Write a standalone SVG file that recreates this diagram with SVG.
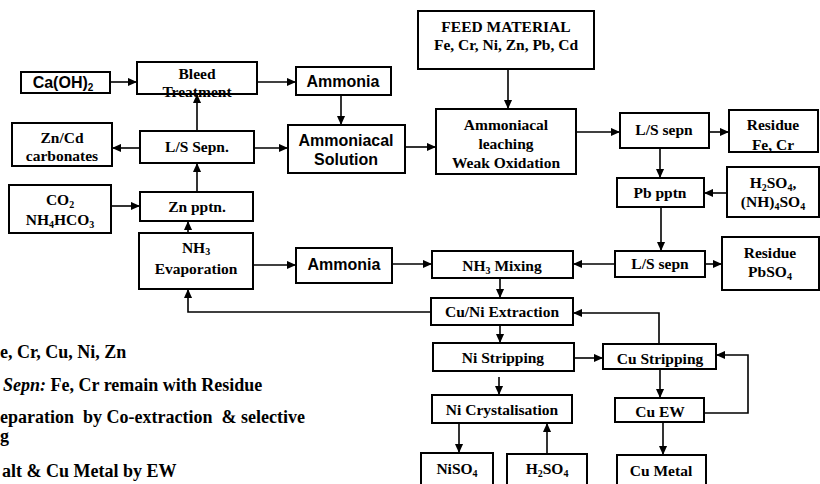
<svg xmlns="http://www.w3.org/2000/svg" width="820" height="484" viewBox="0 0 820 484">
  <style>
    .box { fill: #fff; stroke: #000; stroke-width: 2; }
    .t { font-family: "Liberation Serif", "Times New Roman", serif; font-weight: bold; font-size: 15.5px; text-anchor: middle; fill: #000; }
    .s { font-family: "Liberation Sans", Arial, sans-serif; font-weight: bold; font-size: 16px; text-anchor: middle; fill: #000; }
    .note { font-family: "Liberation Serif", "Times New Roman", serif; font-weight: bold; font-size: 18px; fill: #000; white-space: pre; }
    .sub { font-size: 10px; }
    .wire { fill: none; stroke: #000; stroke-width: 1.6; marker-end: url(#ah); }
  </style>
  <defs>
    <marker id="ah" viewBox="0 0 10 10" refX="10" refY="5" markerWidth="9" markerHeight="9" markerUnits="userSpaceOnUse" orient="auto">
      <path d="M0,0.5 L10,5 L0,9.5 z" fill="#000"/>
    </marker>
  </defs>
  <rect width="820" height="484" fill="#fff"/>

  <!-- connectors -->
  <g id="connectors">
    <path class="wire" d="M110,82 H137"/>
    <path class="wire" d="M257,82 H296"/>
    <path class="wire" d="M341,95 V125"/>
    <path class="wire" d="M254,148 H288"/>
    <path class="wire" d="M197,131 V94"/>
    <path class="wire" d="M140,148 H112"/>
    <path class="wire" d="M197,192 V163"/>
    <path class="wire" d="M111,206 H140"/>
    <path class="wire" d="M188,233 V221"/>
    <path class="wire" d="M253,265 H296"/>
    <path class="wire" d="M392,264 H432"/>
    <path class="wire" d="M431,312 H188 V289"/>
    <path class="wire" d="M405,147 H436"/>
    <path class="wire" d="M508,69 V109"/>
    <path class="wire" d="M576,132 H620"/>
    <path class="wire" d="M709,132 H729"/>
    <path class="wire" d="M660,148 V178"/>
    <path class="wire" d="M727,193 H704"/>
    <path class="wire" d="M661,207 V251"/>
    <path class="wire" d="M615,264 H573"/>
    <path class="wire" d="M705,264 H722"/>
    <path class="wire" d="M500,278 V298"/>
    <path class="wire" d="M500,325 V343"/>
    <path class="wire" d="M659,344 V313 H573"/>
    <path class="wire" d="M574,358 H603"/>
    <path class="wire" d="M499,377 V395"/>
    <path class="wire" d="M660,369 V398"/>
    <path class="wire" d="M704,413 H748 V355 H716"/>
    <path class="wire" d="M663,422 V455"/>
    <path class="wire" d="M459,423 V453"/>
    <path class="wire" d="M547,454 V423"/>
  </g>

  <g id="caoh2">
    <rect class="box" x="21" y="72" width="89" height="21"/>
    <text class="s" x="63" y="88">Ca(OH)<tspan class="sub" dy="3">2</tspan></text>
  </g>
  <g id="bleed">
    <rect class="box" x="137" y="62" width="120" height="32"/>
    <text class="t" x="197" y="79">Bleed</text>
    <text class="t" x="197" y="97">Treatment</text>
  </g>
  <g id="ammonia-top">
    <rect class="box" x="296" y="67" width="95" height="28"/>
    <text class="s" x="343" y="87">Ammonia</text>
  </g>
  <g id="ammoniacal-solution">
    <rect class="box" x="288" y="125" width="117" height="48"/>
    <text class="s" x="346" y="146">Ammoniacal</text>
    <text class="s" x="346" y="165">Solution</text>
  </g>
  <g id="feed">
    <rect class="box" x="418" y="11" width="176" height="58"/>
    <text class="t" x="506" y="32">FEED MATERIAL</text>
    <text class="t" x="506" y="50">Fe, Cr, Ni, Zn, Pb, Cd</text>
  </g>
  <g id="leaching">
    <rect class="box" x="436" y="109" width="140" height="65"/>
    <text class="t" x="506" y="130">Ammoniacal</text>
    <text class="t" x="506" y="149">leaching</text>
    <text class="t" x="506" y="168">Weak Oxidation</text>
  </g>
  <g id="ls-sepn-1">
    <rect class="box" x="620" y="113" width="89" height="35"/>
    <text class="t" x="664" y="135">L/S sepn</text>
  </g>
  <g id="residue-fecr">
    <rect class="box" x="729" y="110" width="89" height="42"/>
    <text class="t" x="773" y="130">Residue</text>
    <text class="t" x="773" y="150">Fe, Cr</text>
  </g>
  <g id="pb-pptn">
    <rect class="box" x="617" y="178" width="87" height="29"/>
    <text class="t" x="660" y="198">Pb pptn</text>
  </g>
  <g id="acid-1">
    <rect class="box" x="727" y="167" width="92" height="50"/>
    <text class="t" x="773" y="188">H<tspan class="sub" dy="3">2</tspan><tspan dy="-3">SO</tspan><tspan class="sub" dy="3">4</tspan><tspan dy="-3">,</tspan></text>
    <text class="t" x="773" y="207">(NH)<tspan class="sub" dy="3">4</tspan><tspan dy="-3">SO</tspan><tspan class="sub" dy="3">4</tspan></text>
  </g>
  <g id="ls-sepn-2">
    <rect class="box" x="615" y="251" width="90" height="26"/>
    <text class="t" x="660" y="269">L/S sepn</text>
  </g>
  <g id="residue-pbso4">
    <rect class="box" x="722" y="237" width="97" height="53"/>
    <text class="t" x="770" y="258">Residue</text>
    <text class="t" x="770" y="277">PbSO<tspan class="sub" dy="3">4</tspan></text>
  </g>
  <g id="nh3-mixing">
    <rect class="box" x="432" y="251" width="141" height="27"/>
    <text class="t" x="502" y="271">NH<tspan class="sub" dy="3">3</tspan><tspan dy="-3"> Mixing</tspan></text>
  </g>
  <g id="cuni-extraction">
    <rect class="box" x="431" y="298" width="142" height="27"/>
    <text class="t" x="502" y="317">Cu/Ni Extraction</text>
  </g>
  <g id="ni-stripping">
    <rect class="box" x="433" y="343" width="141" height="28"/>
    <text class="t" x="503" y="363">Ni Stripping</text>
  </g>
  <g id="cu-stripping">
    <rect class="box" x="603" y="344" width="113" height="25"/>
    <text class="t" x="660" y="364">Cu Stripping</text>
  </g>
  <g id="ni-crystal">
    <rect class="box" x="432" y="395" width="140" height="28"/>
    <text class="t" x="502" y="415">Ni Crystalisation</text>
  </g>
  <g id="cu-ew">
    <rect class="box" x="615" y="398" width="89" height="24"/>
    <text class="t" x="660" y="417">Cu EW</text>
  </g>
  <g id="niso4">
    <rect class="box" x="421" y="453" width="72" height="40"/>
    <text class="t" x="457" y="474">NiSO<tspan class="sub" dy="3">4</tspan></text>
  </g>
  <g id="acid-2">
    <rect class="box" x="507" y="454" width="80" height="40"/>
    <text class="t" x="547" y="474">H<tspan class="sub" dy="3">2</tspan><tspan dy="-3">SO</tspan><tspan class="sub" dy="3">4</tspan></text>
  </g>
  <g id="cu-metal">
    <rect class="box" x="617" y="455" width="89" height="40"/>
    <text class="t" x="661" y="476">Cu Metal</text>
  </g>
  <g id="zncd">
    <rect class="box" x="12" y="123" width="100" height="43"/>
    <text class="t" x="62" y="143">Zn/Cd</text>
    <text class="t" x="62" y="161">carbonates</text>
  </g>
  <g id="ls-sepn-left">
    <rect class="box" x="140" y="131" width="114" height="32"/>
    <text class="t" x="197" y="152">L/S Sepn.</text>
  </g>
  <g id="co2">
    <rect class="box" x="9" y="185" width="102" height="48"/>
    <text class="t" x="60" y="205">CO<tspan class="sub" dy="3">2</tspan></text>
    <text class="t" x="60" y="225">NH<tspan class="sub" dy="3">4</tspan><tspan dy="-3">HCO</tspan><tspan class="sub" dy="3">3</tspan></text>
  </g>
  <g id="zn-pptn">
    <rect class="box" x="140" y="192" width="113" height="29"/>
    <text class="t" x="197" y="212">Zn pptn.</text>
  </g>
  <g id="nh3-evap">
    <rect class="box" x="139" y="233" width="114" height="56"/>
    <text class="t" x="196" y="253">NH<tspan class="sub" dy="2">3</tspan></text>
    <text class="t" x="196" y="274">Evaporation</text>
  </g>
  <g id="ammonia-mid">
    <rect class="box" x="296" y="248" width="96" height="35"/>
    <text class="s" x="344" y="270">Ammonia</text>
  </g>

  <!-- notes -->
  <g id="notes">
    <text class="note" x="0" y="358">e, Cr, Cu, Ni, Zn</text>
    <text class="note" x="3" y="391"><tspan font-style="italic">Sepn:</tspan> Fe, Cr remain with Residue</text>
    <text class="note" x="0" y="423">eparation  by Co-extraction  &amp; selective</text>
    <text class="note" x="0" y="442">g</text>
    <text class="note" x="2" y="477">alt &amp; Cu Metal by EW</text>
  </g>
</svg>
